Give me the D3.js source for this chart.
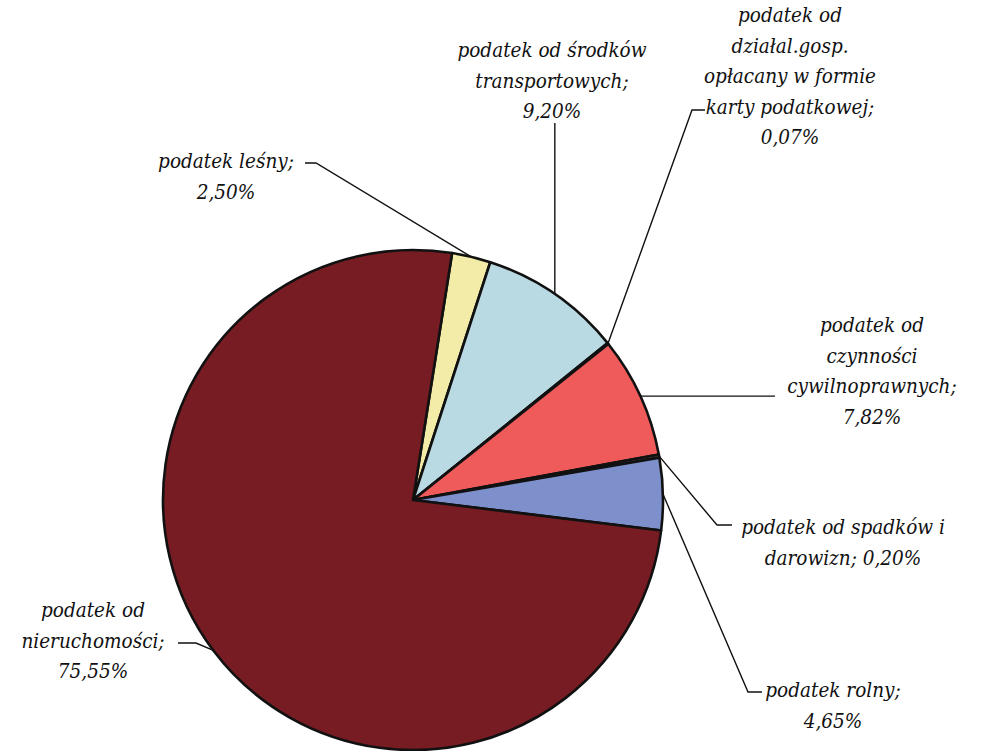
<!DOCTYPE html>
<html>
<head>
<meta charset="utf-8">
<script src="https://cdn.jsdelivr.net/npm/d3@7"></script>
<style>
  body { margin: 0; background: #fff; }
  svg text { font-family: "DejaVu Serif Condensed", "DejaVu Serif", serif; font-stretch: condensed; font-style: italic; font-size: 20.5px; fill: #111; }
</style>
</head>
<body>
<div id="chart"></div>
<script>
// Tax categories, in the order they run clockwise around the pie.
var categories = [
    "podatek leśny",
    "podatek od środków transportowych",
    "podatek od działal.gosp. opłacany w formie karty podatkowej",
    "podatek od czynności cywilnoprawnych",
    "podatek od spadków i darowizn",
    "podatek rolny",
    "podatek od nieruchomości"
];
var shares = [2.50, 9.20, 0.07, 7.82, 0.20, 4.65, 75.55];
var shareLabels = ["2,50%", "9,20%", "0,07%", "7,82%", "0,20%", "4,65%", "75,55%"];
var colors = ["#f3eca8", "#b9d9e3", "#c9c9c9", "#ee5b5a", "#3a3a3a", "#7e90cb", "#761c22"];

// Label text split into lines (as printed in the original).
var labelLines = [
    ["podatek leśny;", "2,50%"],
    ["podatek od środków", "transportowych;", "9,20%"],
    ["podatek od", "działal.gosp.", "opłacany w formie", "karty podatkowej;", "0,07%"],
    ["podatek od", "czynności", "cywilnoprawnych;", "7,82%"],
    ["podatek od spadków i", "darowizn; 0,20%"],
    ["podatek rolny;", "4,65%"],
    ["podatek od", "nieruchomości;", "75,55%"]
];

var width = 988, height = 751;
var cx = 413, cy = 500, radius = 250;
var startDeg = 9;

// Label layout: text centre x, first baseline, and the leader's bend/end points.
var labelPos = [
    { x: 226, y: 168, bend: [316, 163], end: [305, 163] },
    { x: 552, y: 57,  bend: null,       end: null, top: 123 },
    { x: 790, y: 22,  bend: [692, 110], end: [705, 110] },
    { x: 872, y: 332, bend: null,       end: [775, null] },
    { x: 843, y: 534, bend: [717, 525], end: [732, 525] },
    { x: 833, y: 697, bend: [748, 692], end: [762, 692] },
    { x: 93,  y: 617, bend: [196, 643], end: [178, 643] }
];
var lineGap = 30.5;

var svg = d3.select("#chart").append("svg")
    .attr("width", width)
    .attr("height", height);

var pie = d3.pie()
    .sort(null)
    .value(function(d) { return d; })
    .startAngle(startDeg * Math.PI / 180)
    .endAngle((startDeg + 360) * Math.PI / 180);

var arc = d3.arc()
    .innerRadius(0)
    .outerRadius(radius);

var arcs = pie(shares);

var g = svg.append("g")
    .attr("transform", "translate(" + cx + "," + cy + ")");

g.selectAll("path")
    .data(arcs)
    .enter().append("path")
    .attr("d", arc)
    .attr("fill", function(d, i) { return colors[i]; })
    .attr("stroke", "#111")
    .attr("stroke-width", 2.6)
    .attr("stroke-linejoin", "round");

// Point on the rim at the middle of a slice, in page coordinates.
function rimPoint(d) {
    var a = (d.startAngle + d.endAngle) / 2;
    return [cx + radius * Math.sin(a), cy - radius * Math.cos(a)];
}

var leaders = svg.append("g")
    .attr("fill", "none")
    .attr("stroke", "#111")
    .attr("stroke-width", 1.4);

arcs.forEach(function(d, i) {
    var p = rimPoint(d);
    var lp = labelPos[i];
    var pts = [p];
    if (lp.top != null) {
        pts.push([p[0], lp.top]);
    } else if (lp.bend == null) {
        pts.push([lp.end[0], p[1]]);
    } else {
        pts.push(lp.bend);
        pts.push(lp.end);
    }
    leaders.append("path")
        .attr("d", d3.line()(pts));
});

// Labels
var labels = svg.append("g");
labelLines.forEach(function(lines, i) {
    var t = labels.append("text")
        .attr("text-anchor", "middle")
        .attr("x", labelPos[i].x)
        .attr("y", labelPos[i].y);
    lines.forEach(function(s, j) {
        t.append("tspan")
            .attr("x", labelPos[i].x)
            .attr("dy", j === 0 ? 0 : lineGap)
            .text(s);
    });
});
</script>
</body>
</html>
